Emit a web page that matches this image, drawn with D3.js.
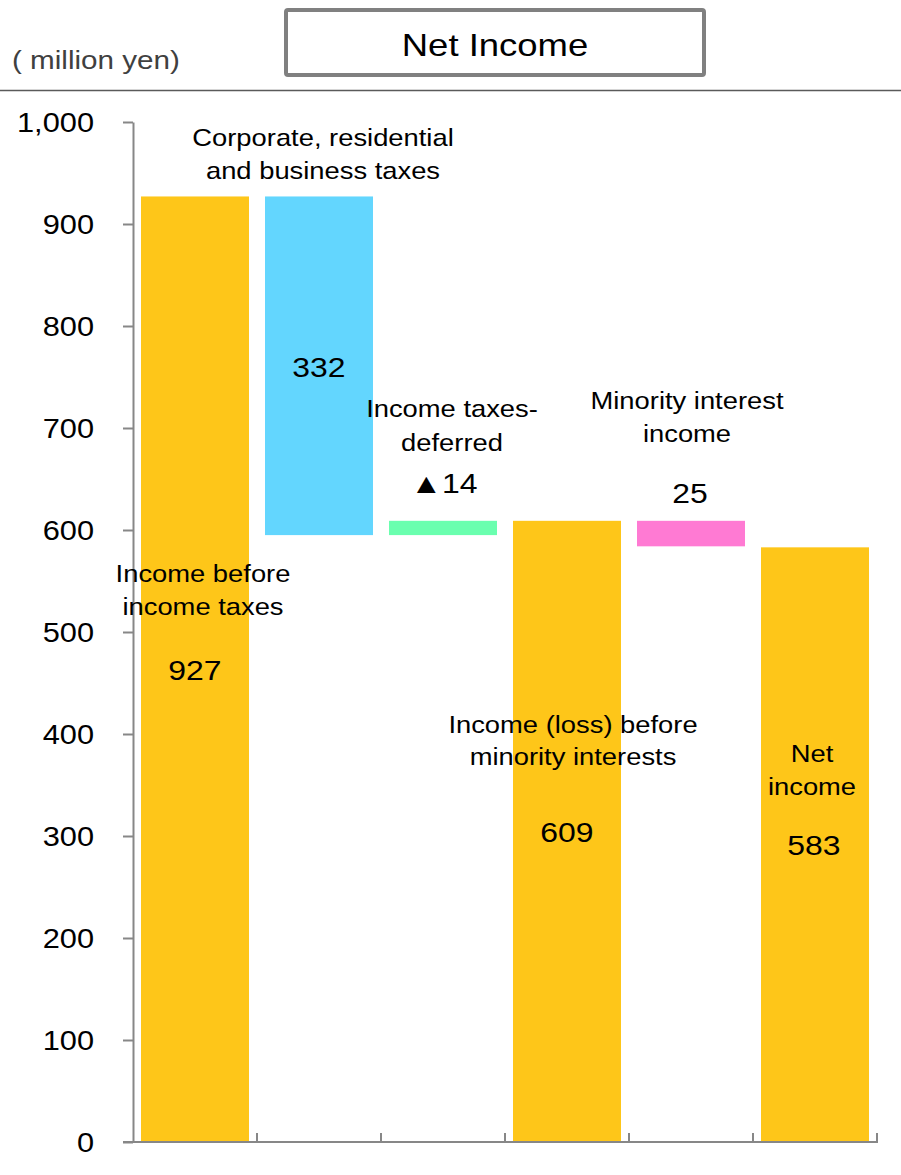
<!DOCTYPE html>
<html>
<head>
<meta charset="utf-8">
<script src="https://cdn.jsdelivr.net/npm/d3@7"></script>
<style>
  html, body { margin: 0; padding: 0; background: #fff; }
  svg { display: block; font-family: "Liberation Sans", Arial, "Noto Sans CJK JP", sans-serif; }
</style>
</head>
<body>
<svg id="chart" width="901" height="1175"></svg>
<script>
// ---- data -------------------------------------------------------------
const categories = [
  "Income before income taxes",
  "Corporate, residential and business taxes",
  "Income taxes-deferred",
  "Income (loss) before minority interests",
  "Minority interest income",
  "Net income"
];
// signed change for each step; "total" bars start from zero
const amounts   = [927, -332, 14, 609, -25, 583];
const barKinds  = ["total", "delta", "delta", "total", "delta", "total"];
const valueLabels = ["927", "332", "▲14", "609", "25", "583"];
const nameLines = [
  ["Income before", "income taxes"],
  ["Corporate, residential", "and business taxes"],
  ["Income taxes-", "deferred"],
  ["Income (loss) before", "minority interests"],
  ["Minority interest", "income"],
  ["Net", "income"]
];
const barColors = ["#FEC619", "#63D6FE", "#6AFFAF", "#FEC619", "#FF7AD3", "#FEC619"];
const yTicks = [0, 100, 200, 300, 400, 500, 600, 700, 800, 900, 1000];

// ---- waterfall segments ------------------------------------------------
let running = 0;
const segments = amounts.map((v, i) => {
  let lo, hi;
  if (barKinds[i] === "total") { lo = 0; hi = v; running = v; }
  else { const next = running + v; lo = Math.min(running, next); hi = Math.max(running, next); running = next; }
  return { cat: categories[i], lo, hi, color: barColors[i], label: valueLabels[i], lines: nameLines[i] };
});

// ---- layout -----------------------------------------------------------
const SX = 1.14; // horizontal stretch of all text
const svg = d3.select("#chart");
const x = d3.scaleBand().domain(categories).range([133, 877]).paddingInner(16 / 124).paddingOuter(8 / 124);
const y = d3.scaleLinear().domain([0, 1000]).range([1142, 122]);

function txt(g, px, py, s, size, opts = {}) {
  return g.append("text")
    .attr("transform", `translate(${px},${py}) scale(${SX},1)`)
    .attr("text-anchor", opts.anchor || "middle")
    .style("font-size", size + "px")
    .attr("fill", opts.fill || "#000")
    .text(s);
}

// header: unit, title box, rule
txt(svg, 12, 69, "( million yen)", 26, { anchor: "start", fill: "#404040" });
svg.append("rect").attr("x", 286).attr("y", 10).attr("width", 418).attr("height", 65)
  .attr("rx", 2).attr("fill", "#fff").attr("stroke", "#808080").attr("stroke-width", 4);
txt(svg, 495, 56, "Net Income", 32);
svg.append("line").attr("x1", 0).attr("x2", 901).attr("y1", 90.5).attr("y2", 90.5)
  .attr("stroke", "#5a5a5a").attr("stroke-width", 1.5);

// bars
svg.append("g").selectAll("rect").data(segments).join("rect")
  .attr("x", d => x(d.cat))
  .attr("width", x.bandwidth())
  .attr("y", d => y(d.hi))
  .attr("height", d => y(d.lo) - y(d.hi))
  .attr("fill", d => d.color);

// y axis
const yAxis = svg.append("g").attr("transform", "translate(133,0)")
  .call(d3.axisLeft(y).tickValues(yTicks).tickSize(10).tickSizeOuter(0).tickFormat(d3.format(",")));
yAxis.select(".domain").attr("stroke", "#878787").attr("stroke-width", 2);
yAxis.selectAll(".tick line").attr("stroke", "#878787").attr("stroke-width", 2);
yAxis.selectAll(".tick text")
  .attr("x", 0).attr("dy", null)
  .attr("transform", `translate(-39,9.5) scale(${SX},1)`)
  .attr("text-anchor", "end")
  .attr("fill", "#000")
  .style("font-size", "27px")
  .style("font-family", null);
yAxis.attr("font-family", null).attr("font-size", null);

// x axis: baseline with upward ticks at category boundaries
const xAxis = svg.append("g");
xAxis.append("line").attr("x1", 123).attr("x2", 878).attr("y1", y(0)).attr("y2", y(0))
  .attr("stroke", "#878787").attr("stroke-width", 2);
const bounds = categories.map(c => x(c) + x.bandwidth() + (x.step() - x.bandwidth()) / 2);
xAxis.selectAll("line.tk").data(bounds).join("line").attr("class", "tk")
  .attr("x1", d => d).attr("x2", d => d)
  .attr("y1", y(0)).attr("y2", y(0) - 9)
  .attr("stroke", "#878787").attr("stroke-width", 2);

// annotations: category names and values
const annot = [
  { dx: 8,  lines: [582, 615], vdx: 0,  vy: 680 },
  { dx: 4,  lines: [146, 179], vdx: 0,  vy: 377 },
  { dx: 9,  lines: [417, 451], vdx: 1,  vy: 493 },
  { dx: 6,  lines: [733, 765], vdx: 0,  vy: 842 },
  { dx: -4, lines: [409, 442], vdx: -1, vy: 503 },
  { dx: -3, lines: [762, 795], vdx: -1, vy: 855 }
];
const lab = svg.append("g");
segments.forEach((d, i) => {
  const cx = x(d.cat) + x.bandwidth() / 2;
  const a = annot[i];
  d.lines.forEach((s, j) => txt(lab, cx + a.dx, a.lines[j], s, 24));
  txt(lab, cx + a.vdx, a.vy, d.label, 28);
});
</script>
</body>
</html>
